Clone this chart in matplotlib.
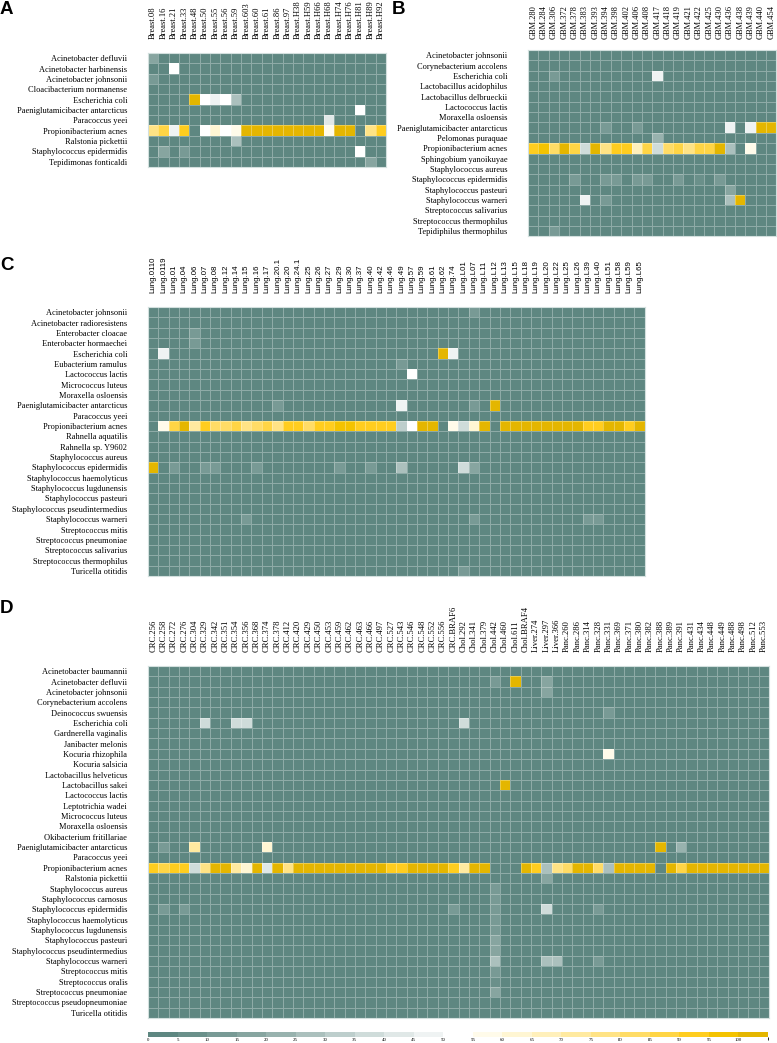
import numpy as np
import matplotlib
matplotlib.use('Agg')
from matplotlib import pyplot as plt
from matplotlib.colors import ListedColormap, BoundaryNorm
from matplotlib.cm import ScalarMappable

W, H = 777, 1043
DPI = 100
CELL = 10.35

# ---- colour key (discrete 5% steps, 50-55 left blank) ----
BOUNDS = list(range(0, 110, 5))
BLOCK_COLORS = ['#5e8781', '#6a908a', '#789a95', '#87a5a0', '#98b2ae',
                '#abc0bd', '#bdcecc', '#cfdcda', '#e0e8e7', '#eff3f3',
                '#ffffff',
                '#fffbea', '#fff6d3', '#fff0bb', '#ffeaa0', '#ffe385',
                '#ffdc66', '#ffd545', '#ffcd1f', '#f4c300', '#e4b600']

# ---- panel A: breast ----
A_ROWS = ['Acinetobacter defluvii', 'Acinetobacter harbinensis', 'Acinetobacter johnsonii',
          'Cloacibacterium normanense', 'Escherichia coli', 'Paeniglutamicibacter antarcticus',
          'Paracoccus yeei', 'Propionibacterium acnes', 'Ralstonia pickettii',
          'Staphylococcus epidermidis', 'Tepidimonas fonticaldi']
A_COLS = ['Breast.08', 'Breast.16', 'Breast.21', 'Breast.33', 'Breast.48', 'Breast.50',
          'Breast.55', 'Breast.56', 'Breast.59', 'Breast.603', 'Breast.60', 'Breast.61',
          'Breast.86', 'Breast.97', 'Breast.H38', 'Breast.H59', 'Breast.H66', 'Breast.H68',
          'Breast.H74', 'Breast.H76', 'Breast.H81', 'Breast.H89', 'Breast.H92']
A_ACNES = [75, 88, 45, 92, 0, 52, 60, 52, 57, 100, 100, 100, 100, 100, 100, 100, 100,
           57, 100, 100, 0, 75, 92]
A_OTHER = {
    'Acinetobacter defluvii': {0: 15},
    'Acinetobacter harbinensis': {2: 52},
    'Acinetobacter johnsonii': {0: 12},
    'Escherichia coli': {4: 100, 5: 52, 6: 47, 7: 52, 8: 27},
    'Paeniglutamicibacter antarcticus': {20: 52},
    'Paracoccus yeei': {17: 42},
    'Ralstonia pickettii': {8: 27},
    'Staphylococcus epidermidis': {1: 15, 3: 12, 20: 52},
    'Tepidimonas fonticaldi': {21: 18},
}

# ---- panel B: GBM ----
B_ROWS = ['Acinetobacter johnsonii', 'Corynebacterium accolens', 'Escherichia coli',
          'Lactobacillus acidophilus', 'Lactobacillus delbrueckii', 'Lactococcus lactis',
          'Moraxella osloensis', 'Paeniglutamicibacter antarcticus', 'Pelomonas puraquae',
          'Propionibacterium acnes', 'Sphingobium yanoikuyae', 'Staphylococcus aureus',
          'Staphylococcus epidermidis', 'Staphylococcus pasteuri', 'Staphylococcus warneri',
          'Streptococcus salivarius', 'Streptococcus thermophilus', 'Tepidiphilus thermophilus']
B_COLS = ['GBM.280', 'GBM.284', 'GBM.306', 'GBM.372', 'GBM.378', 'GBM.383', 'GBM.393',
          'GBM.394', 'GBM.398', 'GBM.402', 'GBM.406', 'GBM.408', 'GBM.417', 'GBM.418',
          'GBM.419', 'GBM.421', 'GBM.422', 'GBM.425', 'GBM.430', 'GBM.436', 'GBM.438',
          'GBM.439', 'GBM.440', 'GBM.454']
B_ACNES = [92, 97, 80, 100, 85, 35, 100, 78, 90, 90, 65, 88, 37, 82, 88, 78, 88, 88,
           100, 25, 0, 57, 0, 0]
B_OTHER = {
    'Escherichia coli': {2: 12, 12: 48},
    'Paeniglutamicibacter antarcticus': {7: 12, 10: 12, 19: 45, 21: 47, 22: 100, 23: 100},
    'Pelomonas puraquae': {12: 20},
    'Staphylococcus epidermidis': {4: 10, 7: 10, 8: 10, 10: 10, 11: 10, 14: 10, 16: 8, 18: 10},
    'Staphylococcus pasteuri': {19: 15},
    'Staphylococcus warneri': {5: 45, 7: 12, 19: 25, 20: 100},
    'Tepidiphilus thermophilus': {2: 12},
}

# ---- panel C: lung ----
C_ROWS = ['Acinetobacter johnsonii', 'Acinetobacter radioresistens', 'Enterobacter cloacae',
          'Enterobacter hormaechei', 'Escherichia coli', 'Eubacterium ramulus',
          'Lactococcus lactis', 'Micrococcus luteus', 'Moraxella osloensis',
          'Paeniglutamicibacter antarcticus', 'Paracoccus yeei', 'Propionibacterium acnes',
          'Rahnella aquatilis', 'Rahnella sp. Y9602', 'Staphylococcus aureus',
          'Staphylococcus epidermidis', 'Staphylococcus haemolyticus',
          'Staphylococcus lugdunensis', 'Staphylococcus pasteuri',
          'Staphylococcus pseudintermedius', 'Staphylococcus warneri', 'Streptococcus mitis',
          'Streptococcus pneumoniae', 'Streptococcus salivarius', 'Streptococcus thermophilus',
          'Turicella otitidis']
C_COLS = ['Lung.0110', 'Lung.0119', 'Lung.01', 'Lung.04', 'Lung.06', 'Lung.07', 'Lung.08',
          'Lung.12', 'Lung.14', 'Lung.15', 'Lung.16', 'Lung.17', 'Lung.20.1', 'Lung.20',
          'Lung.24.1', 'Lung.25', 'Lung.26', 'Lung.27', 'Lung.29', 'Lung.30', 'Lung.37',
          'Lung.40', 'Lung.42', 'Lung.46', 'Lung.49', 'Lung.57', 'Lung.59', 'Lung.61',
          'Lung.62', 'Lung.74', 'Lung.L01', 'Lung.L07', 'Lung.L11', 'Lung.L12', 'Lung.L13',
          'Lung.L15', 'Lung.L18', 'Lung.L19', 'Lung.L20', 'Lung.L22', 'Lung.L25', 'Lung.L26',
          'Lung.L39', 'Lung.L40', 'Lung.L51', 'Lung.L58', 'Lung.L59', 'Lung.L65']
C_ACNES = [0, 57, 88, 100, 72, 90, 82, 82, 88, 78, 80, 85, 75, 92, 90, 82, 92, 90,
           97, 97, 92, 92, 92, 90, 30, 52, 100, 100, 0, 57, 35, 62, 100, 0,
           100, 100, 100, 100, 100, 100, 100, 100, 92, 92, 100, 100, 92, 100]
C_OTHER = {
    'Acinetobacter johnsonii': {31: 12},
    'Enterobacter cloacae': {4: 12},
    'Enterobacter hormaechei': {4: 12},
    'Escherichia coli': {1: 47, 28: 100, 29: 45},
    'Eubacterium ramulus': {24: 10},
    'Lactococcus lactis': {25: 52},
    'Paeniglutamicibacter antarcticus': {12: 12, 24: 45, 31: 12, 33: 100},
    'Staphylococcus epidermidis': {0: 100, 2: 10, 5: 10, 6: 10, 10: 10, 18: 12, 21: 10,
                                   24: 25, 30: 35, 31: 17},
    'Staphylococcus warneri': {9: 10, 31: 12, 42: 12, 43: 12},
    'Turicella otitidis': {30: 12},
}

# ---- panel D: CRC / cholangio / liver / pancreas ----
D_ROWS = ['Acinetobacter baumannii', 'Acinetobacter defluvii', 'Acinetobacter johnsonii',
          'Corynebacterium accolens', 'Deinococcus swuensis', 'Escherichia coli',
          'Gardnerella vaginalis', 'Janibacter melonis', 'Kocuria rhizophila',
          'Kocuria salsicia', 'Lactobacillus helveticus', 'Lactobacillus sakei',
          'Lactococcus lactis', 'Leptotrichia wadei', 'Micrococcus luteus',
          'Moraxella osloensis', 'Okibacterium fritillariae',
          'Paeniglutamicibacter antarcticus', 'Paracoccus yeei', 'Propionibacterium acnes',
          'Ralstonia pickettii', 'Staphylococcus aureus', 'Staphylococcus carnosus',
          'Staphylococcus epidermidis', 'Staphylococcus haemolyticus',
          'Staphylococcus lugdunensis', 'Staphylococcus pasteuri',
          'Staphylococcus pseudintermedius', 'Staphylococcus warneri', 'Streptococcus mitis',
          'Streptococcus oralis', 'Streptococcus pneumoniae',
          'Streptococcus pseudopneumoniae', 'Turicella otitidis']
D_COLS = ['CRC.256', 'CRC.258', 'CRC.272', 'CRC.276', 'CRC.304', 'CRC.329', 'CRC.342',
          'CRC.351', 'CRC.354', 'CRC.356', 'CRC.368', 'CRC.374', 'CRC.378', 'CRC.412',
          'CRC.420', 'CRC.429', 'CRC.450', 'CRC.453', 'CRC.459', 'CRC.462', 'CRC.463',
          'CRC.466', 'CRC.497', 'CRC.527', 'CRC.543', 'CRC.546', 'CRC.548', 'CRC.552',
          'CRC.556', 'CRC.BRAF6', 'Chol.292', 'Chol.341', 'Chol.379', 'Chol.442',
          'Chol.460', 'Chol.611', 'Chol.BRAF4', 'Liver.274', 'Liver.297', 'Liver.366',
          'Panc.260', 'Panc.286', 'Panc.314', 'Panc.328', 'Panc.331', 'Panc.369',
          'Panc.371', 'Panc.380', 'Panc.382', 'Panc.388', 'Panc.389', 'Panc.391',
          'Panc.431', 'Panc.434', 'Panc.448', 'Panc.449', 'Panc.488', 'Panc.498',
          'Panc.512', 'Panc.553']
D_ACNES = [90, 85, 90, 92, 35, 75, 100, 100, 72, 62, 100, 42, 100, 75,
           100, 100, 100, 100, 100, 100, 100, 100, 100, 92, 92, 100, 100, 100, 100,
           90, 70, 100, 100, 0, 0, 0, 100, 90, 25, 78, 80, 100, 100, 80, 25,
           100, 100, 100, 100, 0, 100, 88, 100, 100, 100, 100, 100, 100, 100, 100]
D_OTHER = {
    'Acinetobacter defluvii': {33: 10, 35: 100, 38: 15},
    'Acinetobacter johnsonii': {38: 15},
    'Deinococcus swuensis': {44: 12},
    'Escherichia coli': {5: 35, 8: 35, 9: 38, 30: 35},
    'Kocuria rhizophila': {44: 57},
    'Lactobacillus sakei': {34: 100},
    'Paeniglutamicibacter antarcticus': {1: 12, 4: 70, 11: 60, 49: 100, 51: 20},
    'Ralstonia pickettii': {38: 15},
    'Staphylococcus aureus': {33: 10},
    'Staphylococcus carnosus': {33: 10},
    'Staphylococcus epidermidis': {1: 12, 3: 12, 29: 12, 33: 12, 38: 35, 43: 12},
    'Staphylococcus haemolyticus': {33: 12},
    'Staphylococcus lugdunensis': {33: 12},
    'Staphylococcus pasteuri': {33: 18},
    'Staphylococcus pseudintermedius': {33: 15},
    'Staphylococcus warneri': {33: 25, 38: 28, 39: 28, 43: 12},
    'Streptococcus mitis': {33: 12},
    'Streptococcus oralis': {33: 8},
    'Streptococcus pneumoniae': {33: 15},
}

cmap = ListedColormap(BLOCK_COLORS)
norm = BoundaryNorm(BOUNDS, cmap.N)

fig = plt.figure(figsize=(W / DPI, H / DPI), dpi=DPI)


def px_axes(x0, y0, w, h):
    return fig.add_axes([x0 / W, 1 - (y0 + h) / H, w / W, h / H])


def build(rows, cols, acnes, other):
    mat = np.zeros((len(rows), len(cols)))
    mat[rows.index('Propionibacterium acnes')] = acnes
    for name, cells in other.items():
        for c, v in cells.items():
            mat[rows.index(name), c] = v
    return mat


def panel(x0, y0, rows, cols, acnes, other, col_family, col_size, col_pad):
    mat = build(rows, cols, acnes, other)
    ax = px_axes(x0, y0, len(cols) * CELL, len(rows) * CELL)
    ax.pcolormesh(mat, cmap=cmap, norm=norm, edgecolors=(1, 1, 1, 0.3), linewidth=0.5)
    ax.set_xlim(0, len(cols))
    ax.set_ylim(len(rows), 0)
    ax.xaxis.tick_top()
    ax.set_xticks(np.arange(len(cols)) + 0.5)
    ax.set_xticklabels(cols, rotation=90, fontsize=col_size, family=col_family)
    ax.set_yticks(np.arange(len(rows)) + 0.5)
    ax.set_yticklabels(rows, fontsize=6.0, family='Liberation Serif')
    ax.tick_params(axis='y', length=0, pad=15)
    ax.tick_params(axis='x', length=0, pad=col_pad)
    for s in ax.spines.values():
        s.set_color('#d3e0de')
        s.set_linewidth(0.8)
    return ax


panel(148, 53, A_ROWS, A_COLS, A_ACNES, A_OTHER, 'Liberation Serif', 6.1, 10)
panel(528, 50, B_ROWS, B_COLS, B_ACNES, B_OTHER, 'Liberation Serif', 6.0, 8)
panel(148, 307, C_ROWS, C_COLS, C_ACNES, C_OTHER, 'Liberation Sans', 5.7, 10)
panel(148, 666, D_ROWS, D_COLS, D_ACNES, D_OTHER, 'Liberation Serif', 6.2, 10)

# colour key
cax = px_axes(148, 1032, 620, 5)
cb = fig.colorbar(ScalarMappable(norm=norm, cmap=cmap), cax=cax,
                  orientation='horizontal', ticks=BOUNDS[:-1])
cb.outline.set_visible(False)
cax.tick_params(length=0, pad=1, labelsize=3.5)
for t in cax.get_xticklabels():
    t.set_family('Liberation Serif')

# panel letters
for letter, x, y in [('A', 0, 1), ('B', 392, 1), ('C', 0, 257), ('D', 0, 600)]:
    fig.text(x / W, 1 - y / H, letter, ha='left', va='top', fontsize=13.5,
             fontweight='bold', family='Liberation Sans')

fig.savefig('out.png', dpi=DPI)
